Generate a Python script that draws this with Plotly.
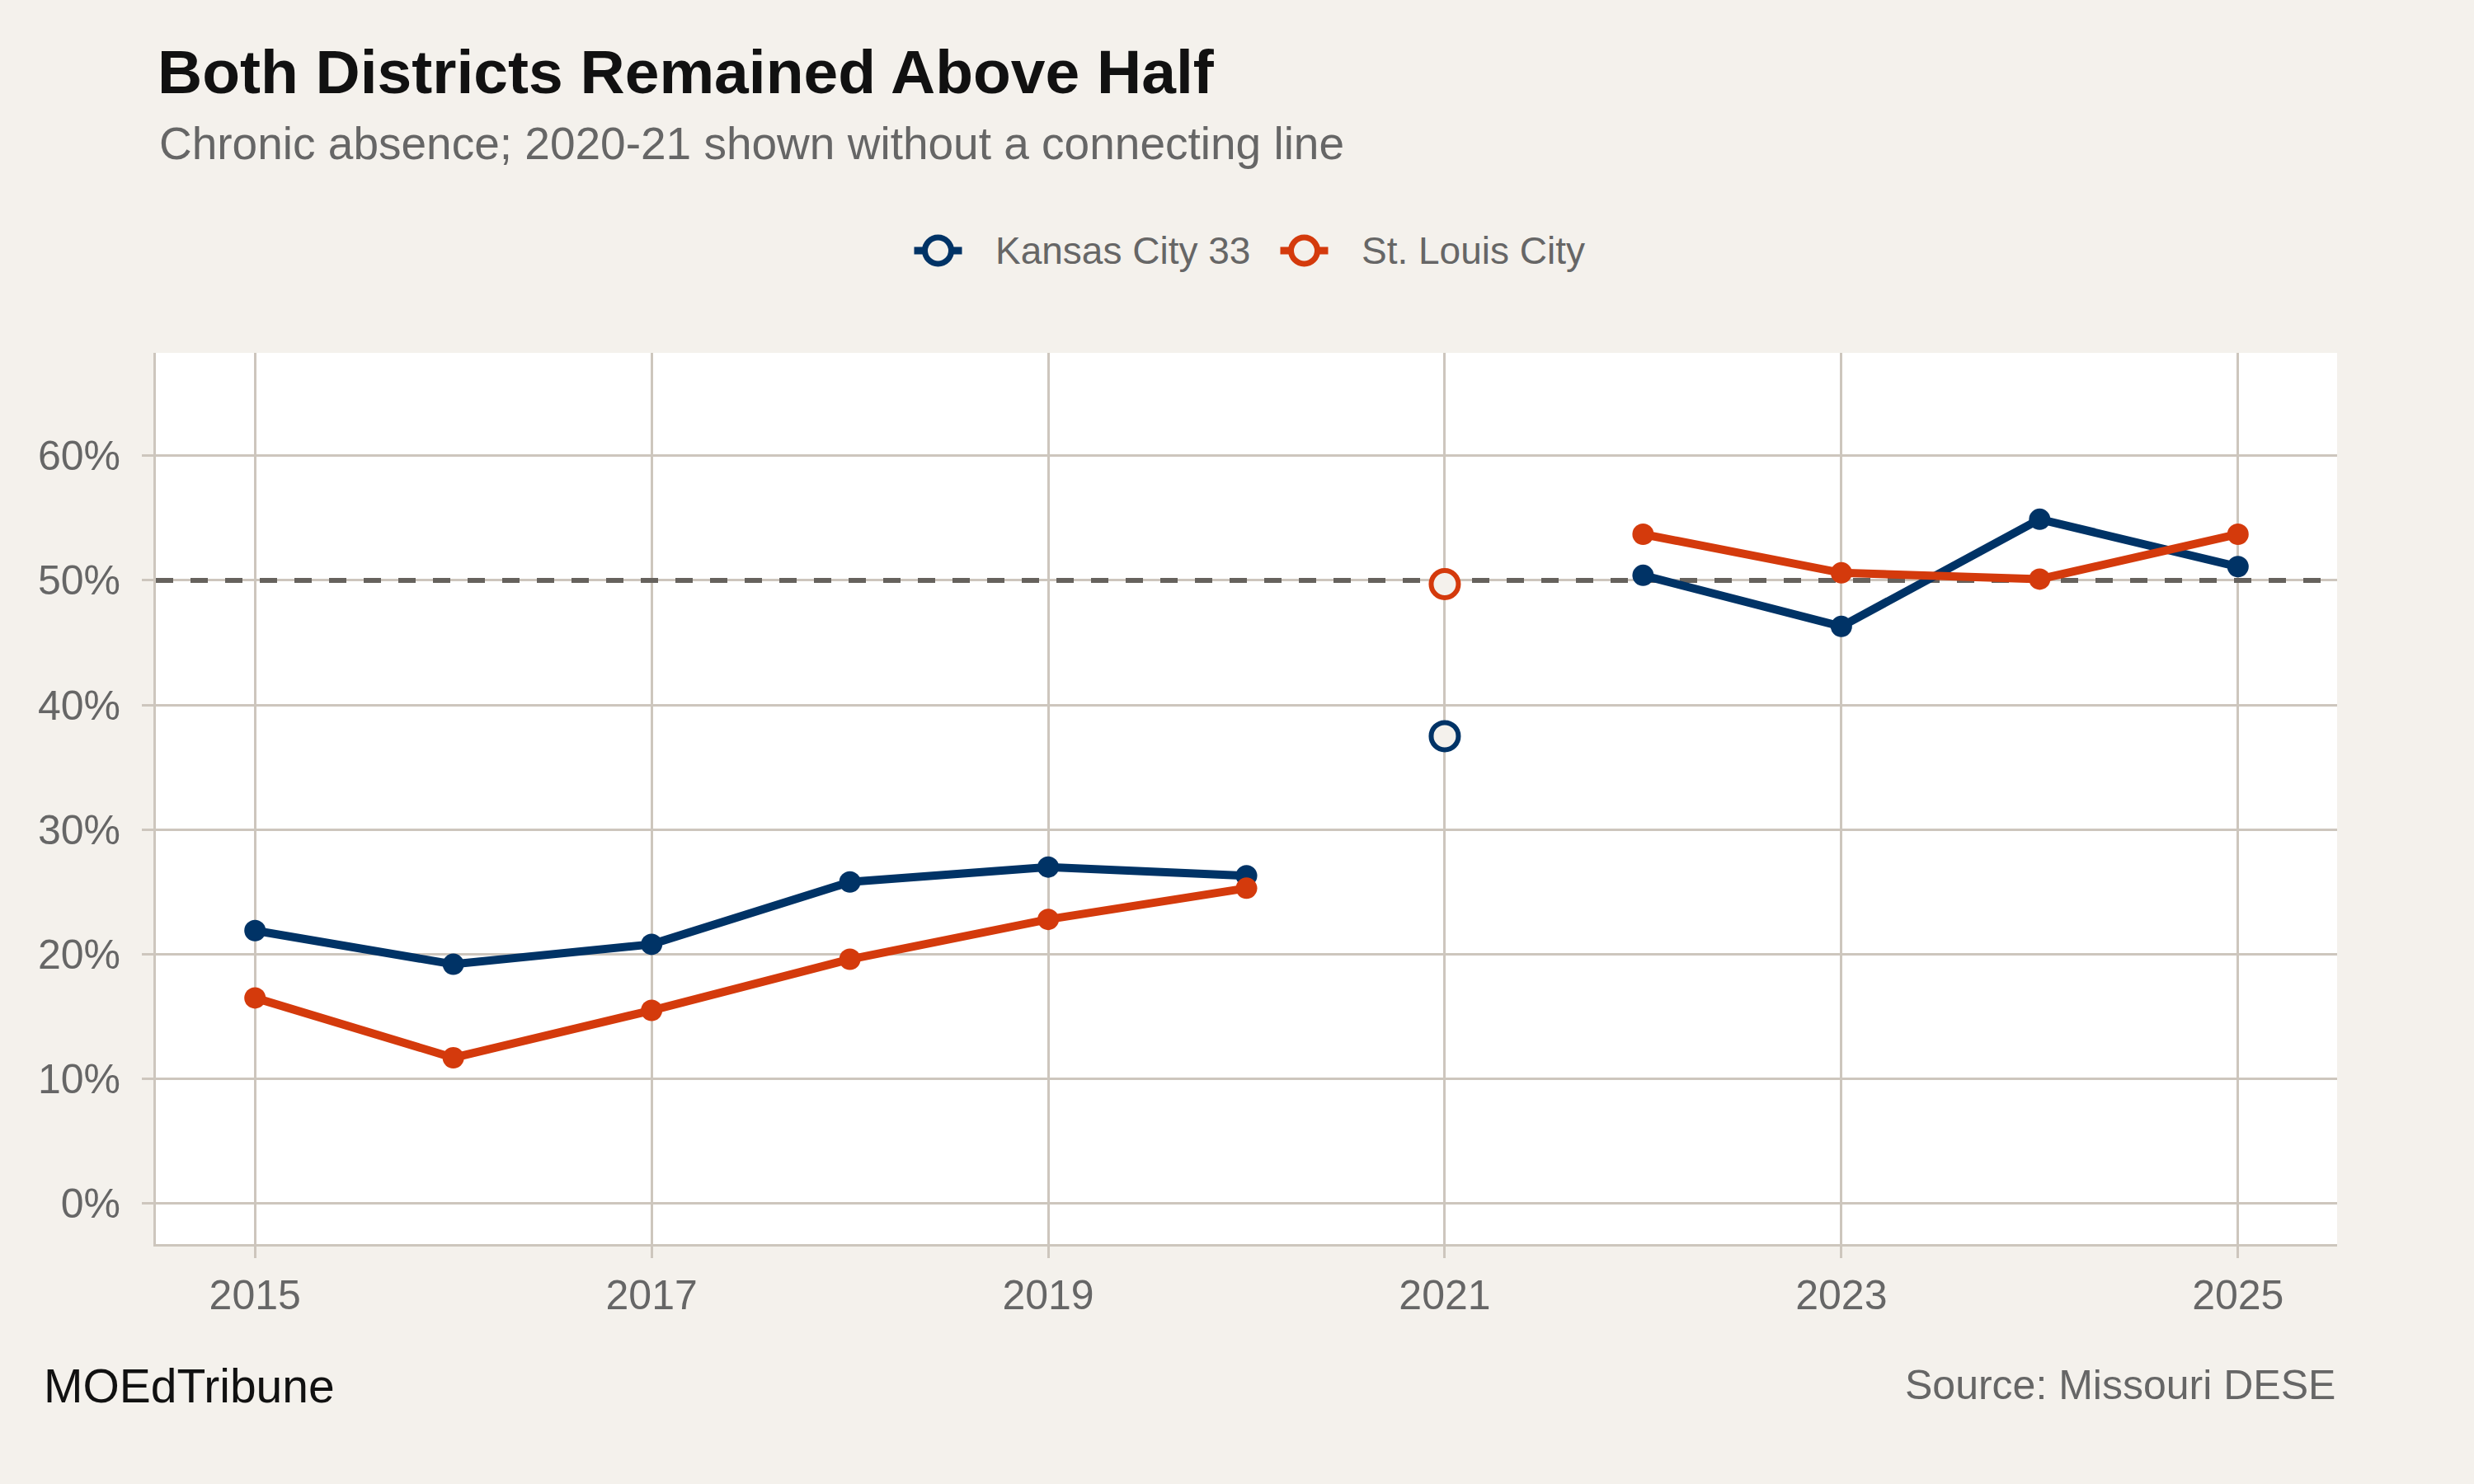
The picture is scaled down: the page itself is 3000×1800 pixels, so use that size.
import plotly.graph_objects as go

# chronic absence rate by school year (spring year), percent
years = [2015, 2016, 2017, 2018, 2019, 2020, 2021, 2022, 2023, 2024, 2025]
kansas_city = [21.9, 19.2, 20.8, 25.8, 27.0, 26.3, 37.5, 50.4, 46.3, 54.9, 51.1]
st_louis = [16.5, 11.7, 15.5, 19.6, 22.8, 25.3, 49.7, 53.7, 50.6, 50.1, 53.7]
district_names = ["Kansas City 33", "St. Louis City"]
gap_year = 2021
half_mark = 50

y_ticks = [0, 10, 20, 30, 40, 50, 60]
y_labels = ["0%", "10%", "20%", "30%", "40%", "50%", "60%"]
x_ticks = [2015, 2017, 2019, 2021, 2023, 2025]
x_range = [2014.5, 2025.5]
y_range = [-3.25, 68.25]

NAVY = "#003366"
ORANGE = "#d43a0c"
PAPER = "#f4f1ec"
GRID = "#cdc6bd"
GREY = "#666666"
FONT = "Liberation Sans"


def px_x(p):  # pixel column -> paper x
    return (p - 189) / 2645


def px_y(p):  # pixel row -> paper y
    return (1509 - p) / 1081


fig = go.Figure()

colours = [NAVY, ORANGE]
for name, vals, col in zip(district_names, [kansas_city, st_louis], colours):
    # connected segments, broken at the covid year
    line_vals = [None if yr == gap_year else v for yr, v in zip(years, vals)]
    fig.add_trace(go.Scatter(
        x=years, y=line_vals, mode="lines+markers", connectgaps=False,
        line=dict(color=col, width=10), marker=dict(color=col, size=26),
        name=name,
    ))
    i = years.index(gap_year)
    fig.add_trace(go.Scatter(
        x=[years[i]], y=[vals[i]], mode="markers",
        marker=dict(color=PAPER, size=33, line=dict(color=col, width=6)),
        name=name,
    ))

# 50% reference line, over the grid but under the data
fig.add_shape(type="line", xref="x", x0=x_range[0], x1=x_range[1], yref="y",
              y0=half_mark, y1=half_mark, layer="between",
              line=dict(color="#66625d", width=6, dash="21px,21px"))

# legend keys drawn by hand so they keep the big open-circle look
key_x = [1137.5, 1581.5]
text_x = [1205, 1649]
key_y = px_y(304)
for name, col, kx, tx in zip(district_names, colours, key_x, text_x):
    fig.add_shape(type="line", xref="paper", yref="paper",
                  xsizemode="pixel", ysizemode="pixel",
                  xanchor=px_x(kx), yanchor=key_y, x0=-29, x1=29, y0=0, y1=0,
                  line=dict(color=col, width=9))
    fig.add_shape(type="circle", xref="paper", yref="paper",
                  xsizemode="pixel", ysizemode="pixel",
                  xanchor=px_x(kx), yanchor=key_y, x0=-16, x1=16, y0=-16, y1=16,
                  fillcolor=PAPER, line=dict(color=col, width=7))
    fig.add_annotation(text=name, xref="paper", yref="paper", x=px_x(tx),
                       y=key_y, xanchor="left", yanchor="middle",
                       showarrow=False, font=dict(size=46, color=GREY))

fig.update_layout(
    width=3000, height=1800,
    paper_bgcolor=PAPER, plot_bgcolor="white",
    margin=dict(l=189, r=166, t=428, b=291),
    font=dict(family=FONT, color=GREY),
    title=dict(text="<b>Both Districts Remained Above Half</b>",
               font=dict(family=FONT, size=75, color="#111111"),
               xref="container", x=191 / 3000, xanchor="left",
               yref="container", y=1 - 60 / 1800, yanchor="top"),
    showlegend=False,
)

fig.add_annotation(text="Chronic absence; 2020-21 shown without a connecting line",
                   xref="paper", yref="paper", x=px_x(191), y=1.2659,
                   xanchor="left", yanchor="top", showarrow=False,
                   font=dict(size=55, color=GREY))
fig.add_annotation(text="MOEdTribune", xref="paper", yref="paper",
                   x=px_x(51), y=-0.128, xanchor="left", yanchor="top",
                   showarrow=False, font=dict(size=57, color="#111111"))
fig.add_annotation(text="Source: Missouri DESE", xref="paper", yref="paper",
                   x=1.0, y=-0.1302, xanchor="right", yanchor="top",
                   showarrow=False, font=dict(size=50, color=GREY))

fig.update_xaxes(range=x_range, tickvals=x_ticks,
                 showgrid=True, gridcolor=GRID, gridwidth=3,
                 showline=True, linecolor=GRID, linewidth=3,
                 ticks="outside", ticklen=14, tickwidth=3, tickcolor=GRID,
                 tickfont=dict(size=50, color=GREY), ticklabelstandoff=2,
                 zeroline=False)
fig.update_yaxes(range=y_range, tickvals=y_ticks, ticktext=y_labels,
                 showgrid=True, gridcolor=GRID, gridwidth=3,
                 showline=True, linecolor=GRID, linewidth=3,
                 ticks="outside", ticklen=14, tickwidth=3, tickcolor=GRID,
                 tickfont=dict(size=50, color=GREY), ticklabelstandoff=16,
                 zeroline=False)

fig.write_html("out.html", config={"displayModeBar": False},
               post_script="document.body.style.margin='0';")
